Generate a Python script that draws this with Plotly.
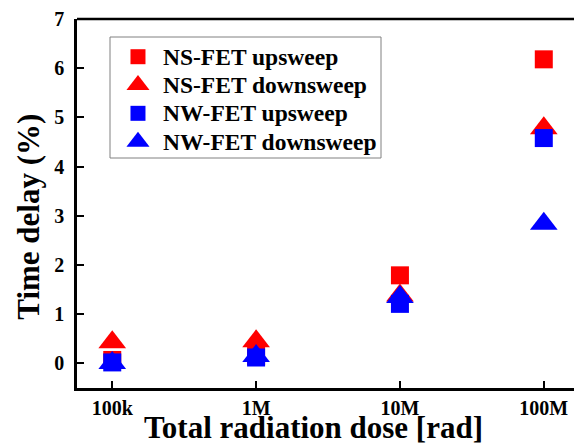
import plotly.graph_objects as go

dose = [1e5, 1e6, 1e7, 1e8]
dose_labels = ["100k", "1M", "10M", "100M"]

ns_up = [0.07, 0.15, 1.79, 6.18]
ns_down = [0.43, 0.45, 1.38, 4.78]
nw_up = [0.02, 0.12, 1.21, 4.58]
nw_down = [0.01, 0.15, 1.35, 2.84]

series = [
    ("NS-FET upsweep", ns_up, "square", "#FF0000", 18, 15),
    ("NS-FET downsweep", ns_down, "triangle-up", "#FF0000", 24, 20),
    ("NW-FET upsweep", nw_up, "square", "#0000FF", 18, 15),
    ("NW-FET downsweep", nw_down, "triangle-up", "#0000FF", 24, 20),
]

FONT = "Liberation Serif"

# legend geometry (paper fractions of plot area)
LEG_X0, LEG_X1, LEG_Y0, LEG_Y1 = 0.0664, 0.6117, 0.6233, 0.9512
LEG_SYM_X = 0.1227
LEG_TXT_X = 0.170
LEG_ROWS = [0.8978, 0.8211, 0.7444, 0.6675]

fig = go.Figure()
for name, vals, sym, col, sz, lsz in series:
    fig.add_trace(go.Scatter(
        x=dose, y=vals, mode="markers", name=name, showlegend=False,
        marker=dict(symbol=sym, color=col, size=sz, line=dict(width=0)),
    ))

annotations = [
    dict(
        text="Time delay (%)", xref="paper", yref="paper",
        x=-0.098, y=0.465, xanchor="center", yanchor="middle",
        textangle=-90, showarrow=False,
        font=dict(family=FONT, size=31, weight="bold", color="black"),
    ),
    dict(
        text="Total radiation dose [rad]", xref="paper", yref="paper",
        x=0.475, y=-0.106, xanchor="center", yanchor="middle",
        showarrow=False,
        font=dict(family=FONT, size=31, weight="bold", color="black"),
    ),
]

# custom legend
for (name, vals, sym, col, sz, lsz), ry in zip(series, LEG_ROWS):
    fig.add_trace(go.Scatter(
        x=[LEG_SYM_X], y=[ry], xaxis="x2", yaxis="y2", mode="markers",
        showlegend=False, hoverinfo="skip", cliponaxis=False,
        marker=dict(symbol=sym, color=col, size=lsz, line=dict(width=0)),
    ))
    annotations.append(dict(
        text=name, xref="paper", yref="paper", x=LEG_TXT_X, y=ry,
        xanchor="left", yanchor="middle", showarrow=False,
        font=dict(family=FONT, size=23.5, weight="bold", color="black"),
    ))

fig.update_layout(
    width=574, height=445,
    margin=dict(l=77, r=0, t=19, b=57),
    paper_bgcolor="white", plot_bgcolor="white",
    font=dict(family=FONT, color="black"),
    showlegend=False,
    xaxis=dict(
        type="log", range=[4.755, 8.21], automargin=False,
        tickmode="array", tickvals=dose, ticktext=dose_labels,
        showline=True, linecolor="black", linewidth=2.5,
        ticks="inside", ticklen=7, tickwidth=2, tickcolor="black",
        showgrid=False, zeroline=False,
        tickfont=dict(family=FONT, size=20, weight="bold"),
        ticklabelstandoff=0,
    ),
    yaxis=dict(
        range=[-0.5, 7], automargin=False,
        tickmode="array", tickvals=[0, 1, 2, 3, 4, 5, 6, 7],
        showline=True, linecolor="black", linewidth=2.5,
        ticks="inside", ticklen=7, tickwidth=2, tickcolor="black",
        showgrid=False, zeroline=False,
        tickfont=dict(family=FONT, size=20, weight="bold"),
        ticklabelstandoff=6,
    ),
    xaxis2=dict(overlaying="x", range=[0, 1], visible=False, automargin=False),
    yaxis2=dict(overlaying="y", range=[0, 1], visible=False, automargin=False),
    annotations=annotations,
    shapes=[
        dict(type="line", xref="paper", yref="paper",
             x0=0, x1=1, y0=1, y1=1,
             line=dict(color="black", width=2.5)),
        dict(type="rect", xref="paper", yref="paper",
             x0=LEG_X0, x1=LEG_X1, y0=LEG_Y0, y1=LEG_Y1,
             line=dict(color="#808080", width=1)),
    ],
)

fig.write_html("out.html")
